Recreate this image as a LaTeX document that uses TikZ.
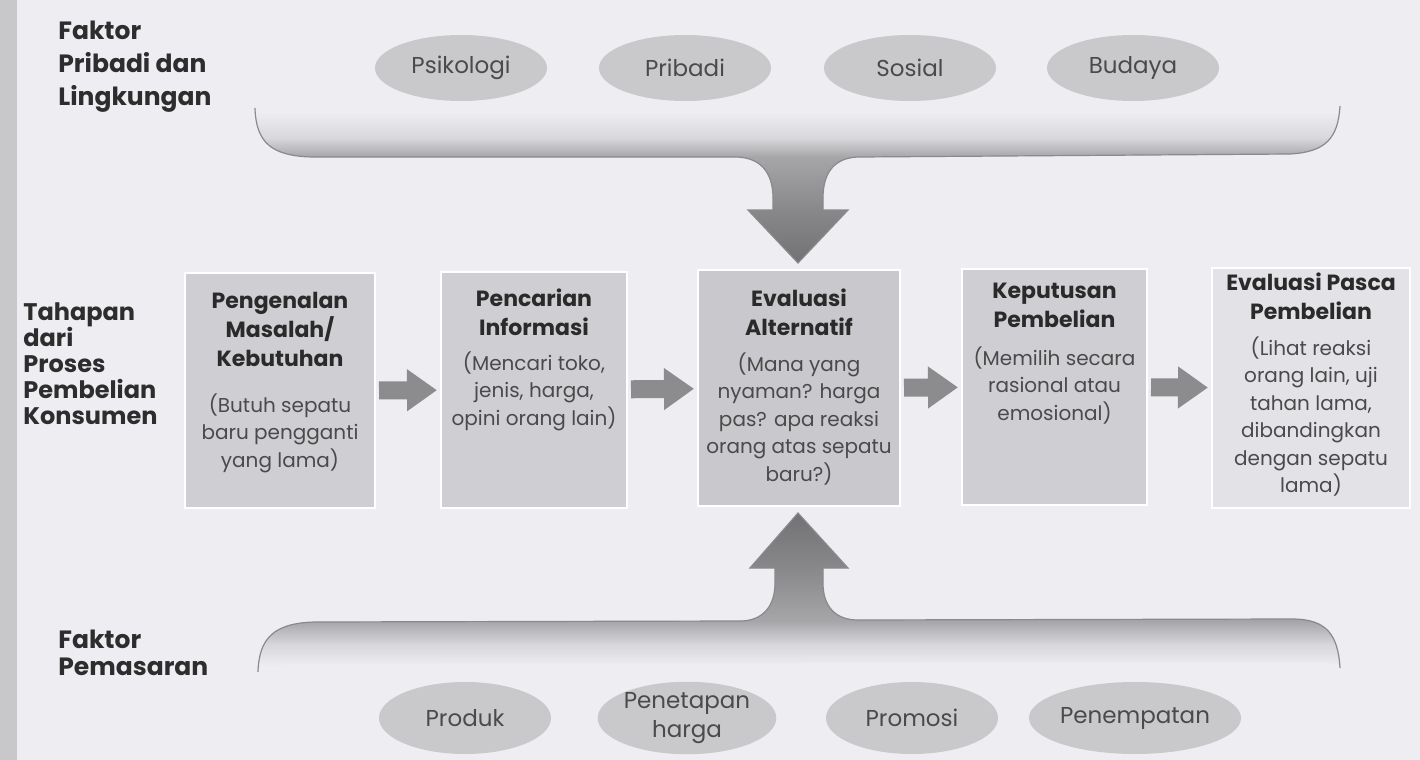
\documentclass[tikz,border=0pt]{standalone}
\usepackage{fontspec}
\setmainfont{Poppins}
\usetikzlibrary{arrows.meta,shapes.geometric,calc,fit}
\definecolor{bg}{HTML}{EDEDF2}
\definecolor{strip}{HTML}{C8C8CB}
\definecolor{boxc}{HTML}{CFCFD3}
\definecolor{boxd}{HTML}{C9C9CD}
\definecolor{boxl}{HTML}{E3E3E7}
\definecolor{ecol}{HTML}{C9C9CC}
\definecolor{etxt}{HTML}{4A4A4A}
\definecolor{tcol}{HTML}{2A2A2A}
\definecolor{bcol}{HTML}{4A4A4A}
\definecolor{lcol}{HTML}{2D2D2D}
\definecolor{acol}{HTML}{8C8C8E}
\definecolor{edge}{HTML}{8A8A8C}
\definecolor{ca}{HTML}{727274}
\definecolor{cb}{HTML}{88888A}
\definecolor{cc}{HTML}{A6A6A9}
\definecolor{cd}{HTML}{D8D8DC}
\pgfdeclareverticalshading{topbrace}{100bp}{color(0bp)=(ca); color(25bp)=(ca); color(41.9bp)=(cb); color(58.8bp)=(cc); color(64.8bp)=(cd); color(73.1bp)=(bg); color(100bp)=(bg)}
\pgfdeclareverticalshading{botbrace}{100bp}{color(0bp)=(bg); color(26.9bp)=(bg); color(33.5bp)=(cd); color(41bp)=(cc); color(57.7bp)=(cb); color(75bp)=(ca); color(100bp)=(ca)}
\tikzset{
 boxst/.style={draw=white, line width=1pt, inner sep=0pt, outer sep=0pt},
 ttl/.style={anchor=north, align=center, inner sep=0pt, text=tcol, font=\bfseries\fontsize{11}{14.5}\selectfont},
 bdy/.style={anchor=north, align=center, inner sep=0pt, text=bcol, font=\fontsize{10}{13.75}\selectfont},
 side/.style={anchor=north west, align=left, inner sep=0pt, text=lcol, font=\bfseries\fontsize{12}{13}\selectfont},
 ell/.style={ellipse, fill=ecol, inner sep=0pt, minimum width=86pt, minimum height=33pt, text=etxt, align=center, font=\fontsize{11.5}{14.5}\selectfont},
 flow/.style={draw=acol, line width=9pt, -{Triangle[length=15pt,width=20pt]}, shorten <=2pt, shorten >=2pt},
 braceedge/.style={draw=edge, line width=0.6pt}
}
\begin{document}
\begin{tikzpicture}[x=0.5pt,y=-0.5pt]
\useasboundingbox (0,0) rectangle (1420,760);
\fill[bg] (0,0) rectangle (1420,760);
\fill[strip] (0,0) rectangle (17,760);

% side labels
\node[side, font=\bfseries\fontsize{12.5}{16.5}\selectfont] (lab1) at (58,21) {Faktor\\Pribadi dan\\Lingkungan};
\node[side] (lab2) at (23,302) {Tahapan\\dari\\Proses\\Pembelian\\Konsumen};
\node[side, font=\bfseries\fontsize{12.5}{13.5}\selectfont] (lab3) at (58,630) {Faktor\\Pemasaran};

% top brace with arrow
\path[shading=topbrace] (255,108) .. controls (256,143) and (272,156) .. (312,157)
 -- (735,157) .. controls (760,157) and (773,172) .. (773,198)
 -- (773,210) -- (748,210) -- (798,263) -- (848,210) -- (823,210) -- (823,198)
 .. controls (823,172) and (835,157) .. (860,157)
 -- (1290,154) .. controls (1326,152) and (1338,138) .. (1340,106)
 .. controls (1336,112) and (1320,113) .. (1290,113) -- (310,114)
 .. controls (280,114) and (262,112) .. (255,108) -- cycle;
\path[braceedge] (255,108) .. controls (256,143) and (272,156) .. (312,157)
 -- (735,157) .. controls (760,157) and (773,172) .. (773,198)
 -- (773,210) -- (748,210) -- (798,263) -- (848,210) -- (823,210) -- (823,198)
 .. controls (823,172) and (835,157) .. (860,157)
 -- (1290,154) .. controls (1326,152) and (1338,138) .. (1340,106);

% bottom brace with arrow
\path[shading=botbrace] (258,672) .. controls (259,638) and (274,623) .. (315,622)
 -- (740,621) .. controls (763,621) and (775,606) .. (775,583)
 -- (775,568) -- (750,568) -- (798,513) -- (848,568) -- (823,568) -- (823,583)
 .. controls (823,606) and (835,620) .. (858,620)
 -- (1292,619) .. controls (1326,619) and (1338,634) .. (1340,668)
 .. controls (1336,662) and (1320,662) .. (1290,662) -- (310,664)
 .. controls (280,664) and (263,666) .. (258,672) -- cycle;
\path[braceedge] (258,672) .. controls (259,638) and (274,623) .. (315,622)
 -- (740,621) .. controls (763,621) and (775,606) .. (775,583)
 -- (775,568) -- (750,568) -- (798,513) -- (848,568) -- (823,568) -- (823,583)
 .. controls (823,606) and (835,620) .. (858,620)
 -- (1292,619) .. controls (1326,619) and (1338,634) .. (1340,668);

% top ellipses
\node[ell] (e1) at (461,68) {Psikologi};
\node[ell] (e2) at (685,68) {Pribadi};
\node[ell] (e3) at (910,68) {Sosial};
\node[ell] (e4) at (1133,68) {Budaya};

% bottom ellipses
\node[ell, minimum height=36pt] (f1) at (465,718) {Produk};
\node[ell, minimum height=36pt] (f2) at (687,718) {Penetapan\\harga};
\node[ell, minimum height=36pt] (f3) at (912,718) {Promosi};
\node[ell, minimum height=36pt] (f4) at (1135,718) {Penempatan};

% process boxes
\node[boxst, fill=boxc, fit={(185,273) (375,508)}] (b1) {};
\node[boxst, fill=boxc, fit={(441,272) (627,508)}] (b2) {};
\node[boxst, fill=boxd, fit={(698,270) (900,506)}] (b3) {};
\node[boxst, fill=boxc, fit={(962,269) (1147,505)}] (b4) {};
\node[boxst, fill=boxl, fit={(1212,268) (1410,508)}] (b5) {};

\node[ttl] (b1t) at ($(b1.north)+(0,19)$) {Pengenalan\\Masalah/\\Kebutuhan};
\node[bdy] (b1d) at ($(b1.north)+(0,120)$) {(Butuh sepatu\\baru pengganti\\yang lama)};
\node[ttl] (b2t) at ($(b2.north)+(0,16)$) {Pencarian\\Informasi};
\node[bdy] (b2d) at ($(b2.north)+(0,79)$) {(Mencari toko,\\jenis, harga,\\opini orang lain)};
\node[ttl] (b3t) at ($(b3.north)+(0,18)$) {Evaluasi\\Alternatif};
\node[bdy] (b3d) at ($(b3.north)+(0,82)$) {(Mana yang\\nyaman? harga\\pas? apa reaksi\\orang atas sepatu\\baru?)};
\node[ttl] (b4t) at ($(b4.north)+(0,14)$) {Keputusan\\Pembelian};
\node[bdy] (b4d) at ($(b4.north)+(0,77)$) {(Memilih secara\\rasional atau\\emosional)};
\node[ttl] (b5t) at ($(b5.north)+(0,4)$) {Evaluasi Pasca\\Pembelian};
\node[bdy] (b5d) at ($(b5.north)+(0,68)$) {(Lihat reaksi\\orang lain, uji\\tahan lama,\\dibandingkan\\dengan sepatu\\lama)};

% flow arrows
\draw[flow] (b1) -- (b2);
\draw[flow] (b2) -- (b3);
\draw[flow] (b3) -- (b4);
\draw[flow] (b4) -- (b5);
\end{tikzpicture}
\end{document}
